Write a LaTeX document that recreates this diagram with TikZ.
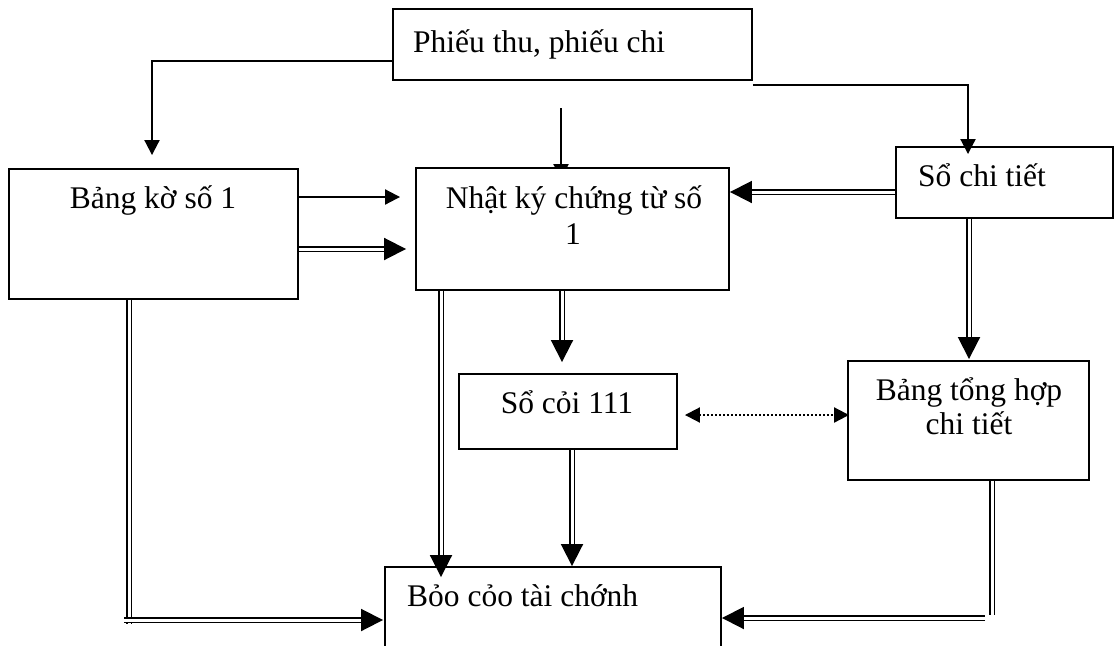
\documentclass[tikz,border=0pt]{standalone}
\usepackage{fontspec}
\setmainfont{Liberation Serif}
\usetikzlibrary{arrows.meta,calc,backgrounds}
\newcommand\diagfont{\fontsize{31.5}{36}\selectfont}
\tikzset{
  box/.style={draw, line width=1.9pt, fill=white, rectangle, inner sep=0pt},
  txt/.style={font=\diagfont, inner sep=0pt},
  onearr/.style={line width=2pt, -{Triangle[length=15pt,width=15pt]}},
  dbl/.style={double, double distance=3pt, line width=1.9pt},
  dblarr/.style={dbl, -{Triangle[length=22pt,width=22pt]}},
  dotarr/.style={line width=2pt, dash pattern=on 2pt off 2pt,
    {Triangle[length=15pt,width=15pt]}-{Triangle[length=15pt,width=15pt]}},
}
\begin{document}
\begin{tikzpicture}[x=1pt,y=-1pt]
\useasboundingbox (0,0) rectangle (1115,645);
\clip (0,0) rectangle (1115,645);

% boxes
\node[box, minimum width=359pt, minimum height=71pt]  (phieu)       at (572.5,44.5) {};
\node[box, minimum width=289pt, minimum height=130pt] (bangke)      at (153.5,234) {};
\node[box, minimum width=313pt, minimum height=122pt] (nhatky)      at (572.5,229) {};
\node[box, minimum width=217pt, minimum height=71pt]  (sochitiet)   at (1004.5,182.5) {};
\node[box, minimum width=218pt, minimum height=75pt]  (socai)       at (568,411.5) {};
\node[box, minimum width=241pt, minimum height=119pt] (bangtonghop) at (968.5,420.5) {};
\node[box, minimum width=336pt, minimum height=133pt] (baocao)      at (553,633.5) {};

% labels
\node[txt, anchor=base west] (tphieu) at (413,52)  {Phiếu thu, phiếu chi};
\node[txt, anchor=base]      (tbangke) at (153,208) {Bảng kờ số 1};
\node[txt, anchor=base]      (tnk1) at (574,208) {Nhật ký chứng từ số};
\node[txt, anchor=base]      (tnk2) at (573,244) {1};
\node[txt, anchor=base west] (tsct) at (918,186) {Sổ chi tiết};
\node[txt, anchor=base]      (tsocai) at (567,413) {Sổ cỏi 111};
\node[txt, anchor=base]      (tbth1) at (969,400) {Bảng tổng hợp};
\node[txt, anchor=base]      (tbth2) at (969,434) {chi tiết};
\node[txt, anchor=base west] (tbc) at (407,606) {Bỏo cỏo tài chớnh};

% free ends and corners
\coordinate (pL) at ($(phieu.west)+(0,16.5)$);
\coordinate (pM) at (561,108);
\coordinate (pR) at ($(phieu.south east)+(0,4)$);
\coordinate (bkc) at (129,620);
\coordinate (btc) at (992,618);

% arrow passing under the journal box
\begin{pgfonlayer}{background}
  \fill[white] (0,0) rectangle (1115,645);
  \draw[onearr] (pM) -- ($(nhatky.north -| pM)+(0,12)$);
\end{pgfonlayer}

% single arrows from the receipts
\draw[onearr] (pL) -| ($(bangke.north)+(-1.5,-13)$);
\draw[onearr] (pR) -| ($(sochitiet.north)+(-36.5,8)$);

% Bảng kờ -> Nhật ký
\draw[onearr, shorten >=15pt] (bangke.east |- 0,197) -- (nhatky.west |- 0,197);
\draw[dblarr, shorten >=9pt] (bangke.east |- 0,249) -- (nhatky.west |- 0,249);

% Sổ chi tiết -> Nhật ký, -> Bảng tổng hợp
\draw[dblarr] (sochitiet.west |- 0,192) -- (nhatky.east |- 0,192);
\draw[dblarr, shorten >=1pt] (sochitiet.south -| 969,0) -- (bangtonghop.north -| 969,0);

% Nhật ký -> Sổ cỏi, -> Báo cáo
\draw[dblarr, shorten >=11pt] (nhatky.south -| 562,0) -- (socai.north -| 562,0);
\draw[dblarr, shorten >=-11pt] (nhatky.south -| 441,0) -- (baocao.north -| 441,0);

% Sổ cỏi -> Báo cáo
\draw[dblarr] (socai.south -| 572,0) -- (baocao.north -| 572,0);

% Bảng kờ -> Báo cáo
\draw[dbl] (bangke.south -| bkc) -- ($(bkc)+(0,4)$);
\draw[dblarr, shorten >=1pt] ($(bkc)+(-5,0)$) -- (baocao.west |- bkc);

% Bảng tổng hợp -> Báo cáo
\draw[dbl] (bangtonghop.south -| btc) -- ($(btc)+(0,-3)$);
\draw[dblarr] ($(btc)+(-7,0)$) -- (baocao.east |- btc);

% Sổ cỏi <-> Bảng tổng hợp
\draw[dotarr, shorten <=7pt, shorten >=-2pt] (socai.east |- 0,415) -- (bangtonghop.west |- 0,415);
\end{tikzpicture}
\end{document}
